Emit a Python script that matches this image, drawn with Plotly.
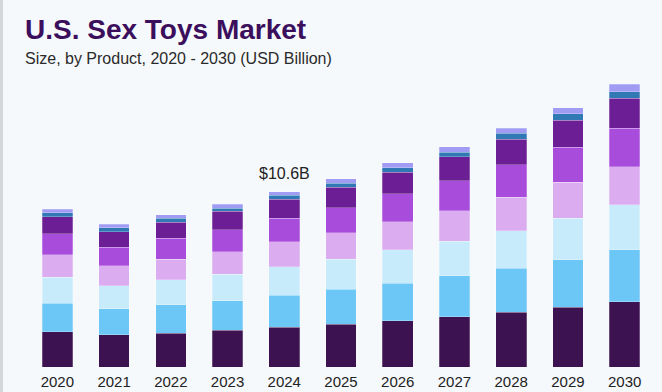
import plotly.graph_objects as go

years = ["2020", "2021", "2022", "2023", "2024", "2025", "2026", "2027", "2028", "2029", "2030"]

# Segment values (USD Billion), bottom to top
seg_dark = [2.14, 1.94, 2.04, 2.22, 2.41, 2.59, 2.81, 3.05, 3.32, 3.62, 3.96]
seg_blue = [1.72, 1.58, 1.72, 1.80, 1.94, 2.12, 2.27, 2.47, 2.67, 2.88, 3.13]
seg_lightblue = [1.58, 1.39, 1.52, 1.59, 1.73, 1.82, 2.02, 2.10, 2.28, 2.51, 2.73]
seg_lavender = [1.35, 1.21, 1.25, 1.38, 1.50, 1.61, 1.70, 1.85, 2.02, 2.18, 2.32]
seg_purple = [1.27, 1.15, 1.27, 1.33, 1.44, 1.52, 1.70, 1.80, 1.96, 2.12, 2.33]
seg_darkpurple = [1.05, 0.93, 0.97, 1.11, 1.15, 1.24, 1.29, 1.47, 1.56, 1.65, 1.82]
seg_teal = [0.24, 0.24, 0.24, 0.20, 0.24, 0.24, 0.27, 0.27, 0.34, 0.38, 0.40]
seg_lightpurple = [0.21, 0.21, 0.20, 0.22, 0.20, 0.28, 0.30, 0.34, 0.33, 0.36, 0.45]

series = [
    ("Segment 1", seg_dark, "#3c1250"),
    ("Segment 2", seg_blue, "#6cc6f6"),
    ("Segment 3", seg_lightblue, "#c8ebfb"),
    ("Segment 4", seg_lavender, "#dbadf0"),
    ("Segment 5", seg_purple, "#a84ddb"),
    ("Segment 6", seg_darkpurple, "#6c1f95"),
    ("Segment 7", seg_teal, "#3079b5"),
    ("Segment 8", seg_lightpurple, "#a09cf3"),
]

highlight_year = "2024"
highlight_label = "$10.6B"

fig = go.Figure()
for name, vals, color in series:
    fig.add_trace(go.Bar(
        x=years, y=vals, name=name,
        marker=dict(color=color, line=dict(color="rgba(255,255,255,0.5)", width=0.5)),
        hoverinfo="x+y",
    ))

totals = [sum(v[i] for _, v, _ in series) for i in range(len(years))]
hi = years.index(highlight_year)

font_family = "Arial, Liberation Sans, sans-serif"
bg = "#f6f9fc"

fig.update_layout(
    width=662, height=392,
    barmode="stack",
    bargap=0.46,
    showlegend=False,
    paper_bgcolor=bg,
    plot_bgcolor=bg,
    margin=dict(l=29, r=9, t=60, b=25, autoexpand=False),
    font=dict(family=font_family),
    xaxis=dict(
        type="category",
        range=[-0.5, len(years) - 0.5],
        showgrid=False, zeroline=False, showline=False, automargin=False,
        ticks="", ticklabelstandoff=4, tickfont=dict(size=15, color="#222222"),
    ),
    yaxis=dict(
        range=[0, 18.6],
        visible=False, showgrid=False, zeroline=False,
    ),
    shapes=[
        dict(type="rect", xref="paper", yref="paper",
             x0=-29 / 624, x1=-26 / 624, y0=-25 / 307, y1=1 + 60 / 307,
             fillcolor="#d4d6d9", line=dict(width=0), layer="below"),
    ],
    annotations=[
        dict(text="<b>U.S. Sex Toys Market</b>", xref="paper", yref="paper",
             x=-0.0096, y=1.10, xanchor="left", yanchor="middle", showarrow=False,
             font=dict(size=28, color="#3b0f5c", family=font_family)),
        dict(text="Size, by Product, 2020 - 2030 (USD Billion)", xref="paper", yref="paper",
             x=-0.0096, y=1.005, xanchor="left", yanchor="middle", showarrow=False,
             font=dict(size=16, color="#2a2a2a", family=font_family)),
        dict(text=highlight_label, x=hi, y=totals[hi], xref="x", yref="y",
             xanchor="center", yanchor="bottom", yshift=8, showarrow=False,
             font=dict(size=16, color="#222222", family=font_family)),
    ],
)

fig.write_html(
    "out.html",
    config={"displayModeBar": False},
    post_script="document.body.style.margin='0';document.body.style.background='%s';" % bg,
)
